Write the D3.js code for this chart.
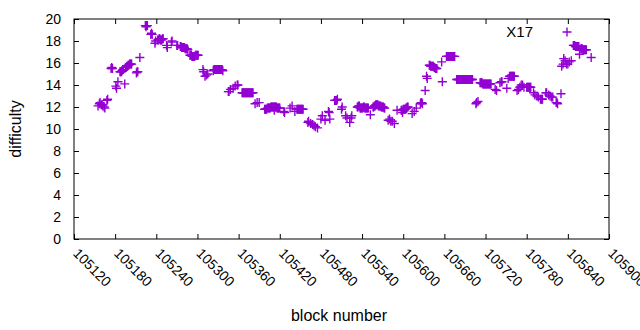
<!DOCTYPE html>
<html><head><meta charset="utf-8">
<script src="https://cdn.jsdelivr.net/npm/d3@7"></script>
<style>body{margin:0;background:#fff}svg{display:block}text{font-family:"Liberation Sans",Arial,sans-serif;fill:#000}</style>
</head><body><svg id="c" width="640" height="330"></svg>
<script>
const seriesName = "X17";
const xTicks = [105120,105180,105240,105300,105360,105420,105480,105540,105600,105660,105720,105780,105840,105900];
const yTicks = [0,2,4,6,8,10,12,14,16,18,20];
const blocks = [
105155,105157,105158,105160,105161,105162,105164,105165,105168,105169,
105174,105175,105176,105181,105182,105184,
105187,105188,105189,105190,105191,105192,105194,105195,105196,105197,105198,105199,105200,105201,105202,105203,105204,
105211,105212,105213,105216,
105224,105225,105226,105227,105232,105233,105234,105238,105239,
105242,105243,105244,105245,105246,105247,105248,105249,105250,
105255,105256,105262,105263,105270,105271,
105275,105276,105277,105278,105279,105280,105281,105282,105283,105284,105285,105286,
105289,105290,105291,105292,105293,105294,105295,105296,105297,105298,105299,105300,105301,
105308,105309,105311,105313,105315,
105323,105324,105325,105326,105327,105328,105329,105330,105331,105332,105333,105334,105335,105336,105337,
105345,105346,105348,105352,105355,105358,105359,
105365,105366,105367,105368,105369,105370,105371,105372,105373,105374,105375,105376,105377,105378,105379,105380,105381,
105384,105387,105390,
105398,105399,105400,105401,105402,105403,105404,105405,105406,105407,105408,105409,105410,105411,105412,105413,105414,105415,105416,105417,105418,105419,105420,
105412,105426,105427,105435,105438,105442,
105445,105446,105447,105448,105449,105450,105451,105452,105453,105454,
105461,105462,105465,105468,105470,105472,105475,
105480,105482,105486,105491,105492,105493,
105500,105501,105502,105503,105504,
105510,105511,105516,105518,105522,105524,105525,
105533,105534,105535,105536,105537,105538,105539,105540,105541,105542,105543,105544,105545,105546,105547,105548,105549,
105552,
105556,105557,105558,105559,105560,105561,105562,105563,105564,105565,105566,105567,105568,105569,105570,105571,105572,105573,
105578,105580,105582,105584,105587,105591,
105597,105598,105599,105600,105601,105602,105603,105604,105605,105606,105607,
105613,105616,105619,105625,105626,105627,105628,
105632,105634,105635,
105638,105639,105640,105641,105642,105643,105644,105645,105646,105647,105648,105649,
105656,105657,
105663,105664,105665,105666,105667,105668,105669,105670,105671,105672,105673,105674,105675,
105678,105679,105680,105681,105682,105683,105684,105685,105686,105687,105688,105689,105690,105691,105692,105693,105694,105695,105696,105697,105698,105699,105700,105701,
105706,105707,105709,
105712,105713,105714,105715,105716,105717,105718,105719,105720,105721,105722,105723,105724,105725,105726,105727,105728,
105734,105736,105741,105743,105744,
105751,105753,105755,105756,105757,105758,105759,105760,105761,105762,
105766,105768,105770,105772,105774,105776,
105780,105781,105782,105783,105784,105785,105786,
105790,105792,105795,105797,105800,105801,105802,105803,
105808,105809,105812,105814,105816,105818,
105823,105824,105825,
105830,105831,105833,105834,105836,105838,105840,105842,105845,
105848,105849,105850,105851,105852,105853,105854,105855,105856,
105857,105859,105860,105861,105862,105863,105864,105865,105866,105867,
105874];
const difficulty = [
12.1,12.3,12.4,12.2,12.2,12.1,12.0,11.9,12.6,12.7,
15.5,15.6,15.5,13.9,13.7,14.3,
15.2,15.2,15.2,15.3,15.4,15.4,14.1,15.6,15.6,15.7,15.7,15.8,15.8,15.9,15.9,15.9,15.9,
15.1,15.2,15.2,16.5,
19.4,19.3,19.4,19.4,18.6,18.7,18.6,17.8,18.0,
18.1,18.1,18.2,18.2,18.1,18.1,18.1,18.2,18.2,
17.6,17.4,17.9,18.0,17.6,17.6,
17.5,17.5,17.4,17.4,17.4,17.4,17.4,17.3,17.3,17.3,17.3,17.2,
16.7,16.7,16.7,16.6,16.6,16.6,16.6,16.6,16.7,16.7,16.7,16.7,16.7,
15.4,15.2,14.8,14.9,15.0,
15.3,15.4,15.4,15.4,15.4,15.4,15.4,15.4,15.4,15.4,15.4,15.4,15.4,15.4,15.3,
13.4,13.4,13.6,13.7,13.9,14.0,14.0,
13.3,13.3,13.3,13.3,13.3,13.3,13.3,13.3,13.3,13.3,13.3,13.3,13.3,13.3,13.3,13.3,13.3,
12.3,12.4,12.4,
11.8,11.8,11.8,11.8,11.9,11.9,11.9,11.9,11.9,12.0,12.0,12.0,12.0,12.0,12.0,12.0,12.0,12.0,11.9,11.9,11.9,11.9,11.9,
11.7,11.6,11.5,11.9,12.1,11.6,
11.8,11.8,11.8,11.8,11.8,11.8,11.8,11.8,11.8,11.8,
10.6,10.7,10.5,10.4,10.3,10.2,10.1,
10.9,11.2,10.8,11.6,11.5,10.9,
12.6,12.6,12.6,12.6,12.7,
11.8,12.0,11.2,11.0,10.6,11.0,11.2,
12.0,12.0,12.1,12.1,11.9,11.9,11.9,11.9,11.9,12.0,12.0,11.9,11.9,11.9,11.9,11.9,11.9,
11.3,
12.0,12.0,12.1,12.1,12.2,12.2,12.2,12.2,12.1,12.1,12.1,12.1,12.0,12.0,12.0,12.0,11.9,11.9,
10.8,10.9,10.7,10.7,10.5,11.7,
11.7,11.7,11.5,11.8,11.8,11.8,11.8,11.9,11.9,12.0,12.0,
11.4,11.6,11.9,12.3,12.4,12.4,12.3,
13.5,14.8,14.6,
15.8,15.8,15.7,15.7,15.7,15.7,15.7,15.6,15.6,15.5,15.5,15.5,
16.1,14.3,
16.6,16.6,16.6,16.6,16.6,16.6,16.6,16.6,16.6,16.6,16.6,16.6,16.6,
14.5,14.5,14.5,14.5,14.5,14.5,14.5,14.5,14.5,14.5,14.5,14.5,14.5,14.5,14.5,14.5,14.5,14.5,14.5,14.5,14.5,14.5,14.5,14.5,
12.3,12.4,12.5,
14.2,14.2,14.2,14.2,14.1,14.1,14.1,14.1,14.1,14.1,14.1,14.1,14.1,14.1,14.1,14.1,14.1,
13.6,13.5,14.2,14.3,14.3,
13.7,14.6,14.8,14.8,14.8,14.8,14.8,14.8,14.8,14.8,
13.5,13.6,13.8,14.0,14.0,13.8,
13.8,13.8,13.8,13.8,13.8,13.8,13.8,
13.3,13.1,13.0,12.9,12.7,12.7,12.7,12.7,
13.3,13.3,13.1,13.0,12.9,12.9,
12.4,12.4,12.3,
13.2,15.7,15.9,16.4,16.2,15.9,15.9,16.1,16.2,
17.6,17.6,17.6,17.5,17.5,17.5,17.5,17.5,17.5,
16.8,17.3,17.3,17.3,17.2,17.2,17.2,17.2,17.2,17.2,
16.5];

const L = 74, R = 609, T = 19, B = 239;
const color = "#9400d3";
const svg = d3.select("#c");
const x = d3.scaleLinear().domain([105120,105900]).range([L,R]);
const y = d3.scaleLinear().domain([0,20]).range([B,T]);
const tick = 5;

svg.append("rect").attr("x",L).attr("y",T).attr("width",R-L).attr("height",B-T)
  .attr("fill","none").attr("stroke","#000").attr("stroke-width",1);

const xa = svg.append("g").attr("transform",`translate(0,${B})`)
  .call(d3.axisBottom(x).tickValues(xTicks).tickSize(-tick).tickFormat(d3.format("d")));
xa.select(".domain").remove();
xa.selectAll("text").attr("font-size",14).attr("font-family","Liberation Sans")
  .attr("text-anchor","start").attr("dy",null).attr("y",0)
  .attr("transform","translate(5,8) rotate(45)").attr("dominant-baseline","hanging");
const xt = svg.append("g").attr("transform",`translate(0,${T})`)
  .call(d3.axisTop(x).tickValues(xTicks).tickSize(-tick).tickFormat(""));
xt.select(".domain").remove();
const ya = svg.append("g").attr("transform",`translate(${L},0)`)
  .call(d3.axisLeft(y).tickValues(yTicks).tickSize(-tick).tickPadding(13));
ya.select(".domain").remove();
ya.selectAll("text").attr("font-size",14).attr("font-family","Liberation Sans");
const yr = svg.append("g").attr("transform",`translate(${R},0)`)
  .call(d3.axisRight(y).tickValues(yTicks).tickSize(-tick).tickFormat(""));
yr.select(".domain").remove();
svg.selectAll(".tick line").attr("stroke","#000");

const arm = 4.5;
const pts = blocks.map((b,i)=>[b,difficulty[i]]);
const g = svg.append("g").attr("stroke",color).attr("stroke-width",1.4).attr("fill","none");
g.selectAll("path").data(pts).enter().append("path")
  .attr("d",d=>{const px=x(d[0]),py=y(d[1]);return `M${px-arm},${py}H${px+arm}M${px},${py-arm}V${py+arm}`;});

svg.append("text").attr("x",533).attr("y",32).attr("dy","0.35em").attr("text-anchor","end")
  .attr("font-size",15).text(seriesName);
svg.append("path").attr("stroke",color).attr("stroke-width",1.4)
  .attr("d",`M${567-arm},32H${567+arm}M567,${32-arm}V${32+arm}`);

svg.append("text").attr("x",339).attr("y",321).attr("text-anchor","middle").attr("font-size",16).text("block number");
svg.append("text").attr("transform","translate(21,129) rotate(-90)").attr("text-anchor","middle").attr("font-size",16).text("difficulty");
</script></body></html>
